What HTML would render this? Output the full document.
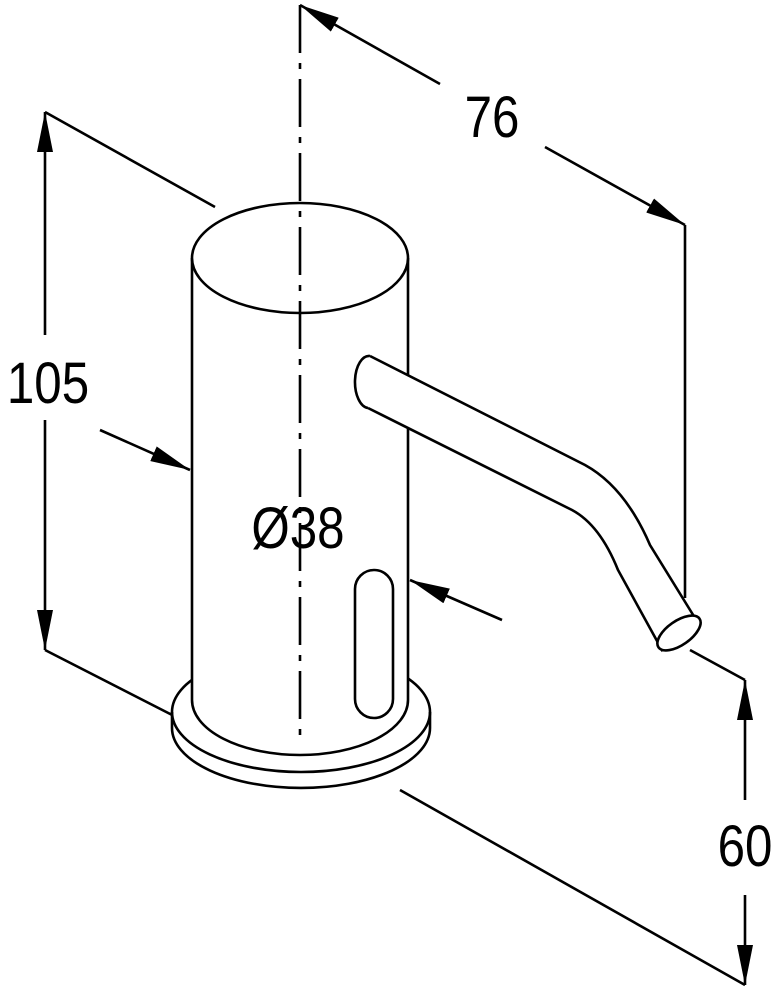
<!DOCTYPE html>
<html><head><meta charset="utf-8"><style>
html,body{margin:0;padding:0;background:#fff;}
svg{display:block;}
text{font-family:"Liberation Sans",sans-serif;font-size:58px;fill:#000;}
</style></head><body>
<svg width="775" height="1000" viewBox="0 0 775 1000" xmlns="http://www.w3.org/2000/svg">
<defs>
<marker id="b" viewBox="0 0 40 16" refX="40" refY="8" markerWidth="40" markerHeight="16" markerUnits="userSpaceOnUse" orient="auto-start-reverse">
<path d="M0,0 L40,8 L0,16 z" fill="#000"/></marker>
</defs>
<g fill="none" stroke="#000" stroke-width="2.6">
<line x1="300" y1="5" x2="440" y2="84" marker-start="url(#b)"/>
<line x1="545" y1="147" x2="685" y2="225" marker-end="url(#b)"/>
<line x1="685" y1="225" x2="685" y2="598"/>
<line x1="45" y1="112" x2="215" y2="207"/>
<line x1="45" y1="112" x2="45" y2="335" marker-start="url(#b)"/>
<line x1="45" y1="420" x2="45" y2="650" marker-end="url(#b)"/>
<line x1="45" y1="650" x2="178" y2="718"/>
<line x1="100" y1="430" x2="190" y2="470" marker-end="url(#b)"/>
<line x1="502" y1="620" x2="410" y2="580" marker-end="url(#b)"/>
<line x1="690" y1="650" x2="745" y2="680"/>
<line x1="400" y1="790" x2="745" y2="985"/>
<line x1="745" y1="680" x2="745" y2="800" marker-start="url(#b)"/>
<line x1="745" y1="895" x2="745" y2="985" marker-end="url(#b)"/>
<ellipse cx="301" cy="712" rx="129" ry="60" fill="#fff"/>
<path d="M172,712 L172,728 A129,60 0 0 0 430,728 L430,712"/>
<path d="M192,258 L192,700 A108,55 0 0 0 408,700 L408,258" fill="#fff"/>
<ellipse cx="300" cy="258" rx="108" ry="55" fill="#fff"/>
<rect x="355" y="570" width="38" height="148" rx="19" fill="#fff"/>
<path d="M370,356 L585,465 Q625,487 650,545 L695,618 L662,650 L618,570 Q600,525 572,510 L368,408" fill="#fff"/>
<path d="M370,356 A14,26 0 0 0 368,408" fill="#fff"/>
<ellipse cx="679" cy="633" rx="25" ry="12" transform="rotate(-35 679 633)" fill="#fff"/>
</g>
<line x1="300" y1="5" x2="300" y2="745" stroke="#000" stroke-width="2.6" stroke-dasharray="48,10,6,10"/>
<g transform="translate(492,137) scale(0.85,1)"><text text-anchor="middle">76</text></g>
<g transform="translate(48,403) scale(0.85,1)"><text text-anchor="middle">105</text></g>
<g transform="translate(298,548) scale(0.85,1)"><text text-anchor="middle">Ø38</text></g>
<g transform="translate(745,866) scale(0.85,1)"><text text-anchor="middle">60</text></g>
</svg>
</body></html>
